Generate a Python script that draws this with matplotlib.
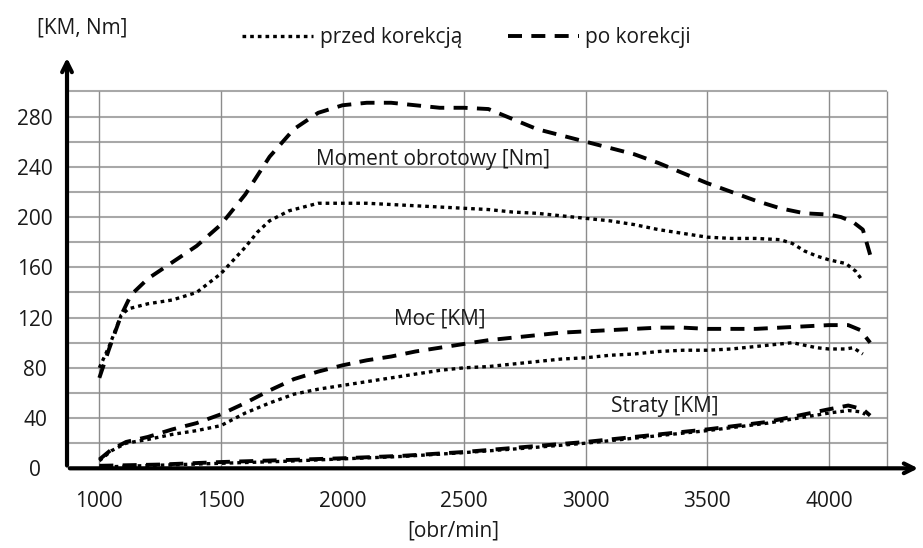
import matplotlib
matplotlib.use('Agg')
import matplotlib.pyplot as plt
from matplotlib.lines import Line2D

plt.rcParams['font.family'] = ['Open Sans', 'DejaVu Sans']

# Moment obrotowy [Nm]
rpm_tq_before = [1000, 1040, 1090, 1120, 1200, 1300, 1400, 1500, 1600, 1650, 1700, 1780, 1900, 2000, 2100,
                 2200, 2300, 2400, 2500, 2600, 2700, 2800, 2900, 3000, 3100, 3200, 3300, 3400, 3500, 3600,
                 3700, 3800, 3850, 3900, 3950, 4000, 4070, 4110, 4140]
tq_before = [80, 97, 122, 127, 131, 134, 140, 155, 176, 188, 197, 205, 211, 211, 211,
             210, 209, 208, 207, 206, 204, 203, 201, 199, 197, 194, 190, 187, 184, 183,
             183, 182, 179, 173, 169, 166, 163, 157, 149]

rpm_tq_after = [1000, 1040, 1090, 1130, 1200, 1300, 1400, 1500, 1600, 1700, 1800, 1900, 2000, 2100, 2200,
                2300, 2400, 2500, 2600, 2700, 2800, 2900, 3000, 3100, 3200, 3300, 3400, 3500, 3600, 3700,
                3800, 3900, 4000, 4050, 4100, 4140, 4170]
tq_after = [72, 95, 122, 138, 151, 164, 177, 194, 218, 248, 270, 283, 289, 291, 291,
            289, 287, 287, 286, 278, 270, 265, 260, 255, 250, 243, 235, 227, 220, 213,
            207, 203, 202, 200, 196, 190, 170]

# Moc [KM]
rpm_p_before = [1000, 1050, 1110, 1200, 1300, 1400, 1500, 1600, 1700, 1800, 1900, 2000, 2100, 2200, 2300,
                2400, 2500, 2600, 2700, 2800, 2900, 3000, 3100, 3200, 3300, 3400, 3500, 3600, 3700, 3800,
                3850, 3900, 3950, 4000, 4070, 4100, 4140]
p_before = [6, 14, 20, 23, 27, 30, 34, 44, 52, 59, 63, 66, 69, 72, 75,
            78, 80, 81, 83, 85, 87, 88, 90, 91, 93, 94, 94, 95, 97, 99,
            100, 98, 96, 95, 95, 96, 91]

rpm_p_after = [1000, 1050, 1110, 1200, 1300, 1400, 1500, 1600, 1700, 1800, 1900, 2000, 2100, 2200, 2300,
               2400, 2500, 2600, 2700, 2800, 2900, 3000, 3100, 3200, 3300, 3400, 3500, 3600, 3700, 3800,
               3900, 4000, 4080, 4130, 4170]
p_after = [7, 15, 21, 25, 31, 36, 43, 52, 62, 71, 77, 82, 86, 89, 93,
           96, 99, 102, 104, 106, 108, 109, 110, 111, 112, 112, 111, 111, 111, 112,
           113, 114, 114, 110, 100]

# Straty [KM]
rpm_l_before = [1000, 1250, 1500, 1750, 2000, 2250, 2500, 2750, 3000, 3250, 3500, 3750, 4000, 4080, 4130, 4150]
l_before = [1, 2.5, 4, 5.5, 7.5, 9.5, 12.5, 16, 20, 25, 30, 36, 44, 46, 45, 43]

rpm_l_after = [1000, 1250, 1500, 1750, 2000, 2250, 2500, 2750, 3000, 3250, 3500, 3750, 4000, 4080, 4140, 4170]
l_after = [2, 3, 5, 6.5, 8, 10, 13, 17, 21, 26, 31, 37, 47, 50, 47, 42]

x_ticks = [1000, 1500, 2000, 2500, 3000, 3500, 4000]
y_ticks = [0, 40, 80, 120, 160, 200, 240, 280]
grid_y = list(range(20, 301, 20))
grid_x = x_ticks + [4240]

fig = plt.figure(figsize=(9.23, 5.48), dpi=100)
ax = fig.add_axes([0.0726, 0.1454, 0.9252, 0.7542])
ax.set_xlim(867, 4379)
ax.set_ylim(0, 329)

ax.hlines(grid_y, 867, grid_x[-1], color='#a8a8a8', lw=1.5, zorder=1)
ax.vlines(grid_x, 0, 300, color='#8c8c8c', lw=1.0, zorder=1)

dot = dict(color='black', lw=2.4, linestyle=(0, (1.1, 1.2)))
dash = dict(color='black', lw=2.8, linestyle=(0, (3.6, 2.4)))

ax.plot(rpm_tq_before, tq_before, **dot)
ax.plot(rpm_tq_after, tq_after, **dash)
ax.plot(rpm_p_before, p_before, **dot)
ax.plot(rpm_p_after, p_after, **dash)
ax.plot(rpm_l_before, l_before, **dot)
ax.plot(rpm_l_after, l_after, **dash)

for s in ax.spines.values():
    s.set_visible(False)
ax.annotate('', xy=(1.0, 0), xytext=(0, 0), xycoords='axes fraction',
            arrowprops=dict(arrowstyle='->,head_width=0.35,head_length=0.7', lw=3, color='black'))
ax.annotate('', xy=(0, 1.0), xytext=(0, 0), xycoords='axes fraction',
            arrowprops=dict(arrowstyle='->,head_width=0.35,head_length=0.7', lw=3, color='black'))

txt = '#1a1a1a'
fs = 15
ax.set_xticks(x_ticks)
ax.set_yticks(y_ticks)
ax.tick_params(length=0, labelsize=fs, labelcolor=txt)
ax.tick_params(axis='x', pad=16)
ax.tick_params(axis='y', pad=23)
for lab in ax.get_yticklabels():
    lab.set_horizontalalignment('center')

ax.text(2372, 246, 'Moment obrotowy [Nm]', fontsize=fs, color=txt, ha='center', va='center')
ax.text(2400, 119, 'Moc [KM]', fontsize=fs, color=txt, ha='center', va='center')
ax.text(3326, 49, 'Straty [KM]', fontsize=fs, color=txt, ha='center', va='center')

fig.text(82 / 923, 1 - 28 / 548, '[KM, Nm]', fontsize=fs, color=txt, ha='center', va='center')
fig.text(453 / 923, 1 - 531 / 548, '[obr/min]', fontsize=fs, color=txt, ha='center', va='center')

handles = [Line2D([], [], **dot), Line2D([], [], **dash)]
fig.legend(handles, ['przed korekcją', 'po korekcji'], loc='center', bbox_to_anchor=(0.5054, 0.931),
           ncol=2, frameon=False, fontsize=fs, handlelength=3.4, handletextpad=0.3, columnspacing=2.2,
           labelcolor=txt)

fig.savefig('out.png', dpi=100)
